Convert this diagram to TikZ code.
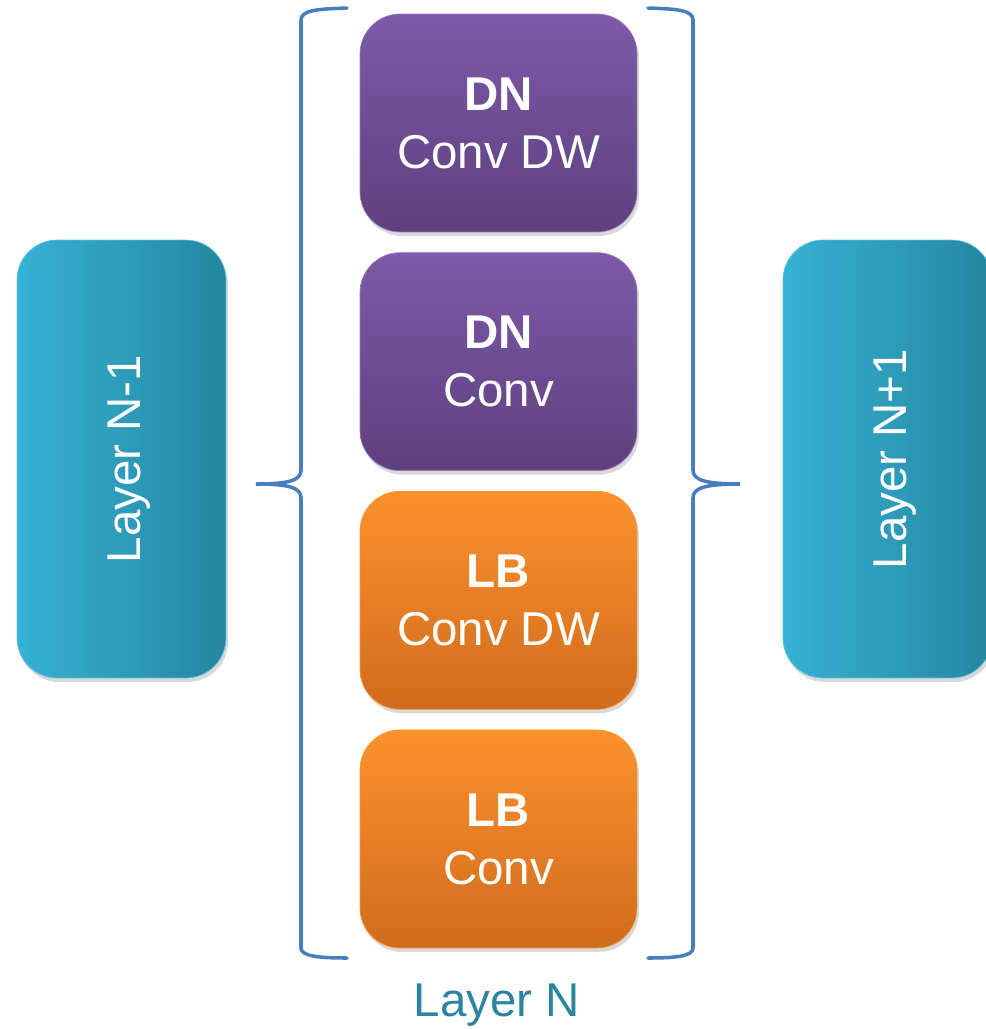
\documentclass[tikz,border=0pt]{standalone}
\usepackage{fontspec}
\setmainfont{Liberation Sans}
\usepackage{graphicx}
\usetikzlibrary{positioning,shadows}
\definecolor{plum}{RGB}{125,90,168}
\definecolor{plumdark}{RGB}{94,64,126}
\definecolor{amber}{RGB}{252,145,44}
\definecolor{amberdark}{RGB}{208,108,30}
\definecolor{teal}{RGB}{54,178,212}
\definecolor{tealdark}{RGB}{36,134,160}
\definecolor{bracecol}{RGB}{72,126,190}
\definecolor{caption}{RGB}{44,132,160}

\tikzset{
  block/.style={rounded corners=0.8cm,minimum width=5.54cm,minimum height=4.36cm,
    align=center,text=white,font=\fontsize{27}{33}\selectfont,
    drop shadow={opacity=0.3,shadow xshift=0.04cm,shadow yshift=-0.08cm}},
  dnblock/.style={block,draw=plum!80,top color=plum,bottom color=plumdark},
  lbblock/.style={block,draw=amber,top color=amber,bottom color=amberdark},
  layerblock/.style={block,draw=teal!80,minimum width=4.18cm,minimum height=8.76cm,
    left color=teal,right color=tealdark},
  brace/.style={bracecol,line width=2pt,line cap=round}
}

\begin{document}
\begin{tikzpicture}[x=0.02cm,y=-0.02cm]
\useasboundingbox (0,0) rectangle (986,1029);

% Layer N: four stacked blocks
\node[dnblock] (dnconvdw) at (498.5,123) {\textbf{DN}\\Conv DW};
\node[dnblock,below=0.4cm of dnconvdw] (dnconv) {\textbf{DN}\\Conv};
\node[lbblock,below=0.4cm of dnconv] (lbconvdw) {\textbf{LB}\\Conv DW};
\node[lbblock,below=0.4cm of lbconvdw] (lbconv) {\textbf{LB}\\Conv};

% neighbouring layers
\node[layerblock] (prev) at (121.5,459) {\hspace*{0.3cm}\rotatebox{90}{Layer N-1}};
\node[layerblock] (next) at (887.5,459) {\hspace*{0.3cm}\rotatebox{90}{Layer N+1}};

% braces
\coordinate (ltip) at (256,484);
\coordinate (rtip) at (740,484);
\draw[brace] (347,8) .. controls (318,9) and (301,10) .. (301,20)
  -- (301,470) .. controls (301,480) and (290,484) .. (ltip)
  .. controls (290,484) and (301,488) .. (301,498)
  -- (301,948) .. controls (301,956) and (318,958) .. (347,958);
\draw[brace] (648,8) .. controls (677,9) and (693,10) .. (693,20)
  -- (693,470) .. controls (693,480) and (705,484) .. (rtip)
  .. controls (705,484) and (693,488) .. (693,498)
  -- (693,948) .. controls (693,956) and (677,958) .. (648,958);

\node[caption,font=\fontsize{27}{33}\selectfont] (layern) at (497,1005) {Layer N};
\end{tikzpicture}
\end{document}
